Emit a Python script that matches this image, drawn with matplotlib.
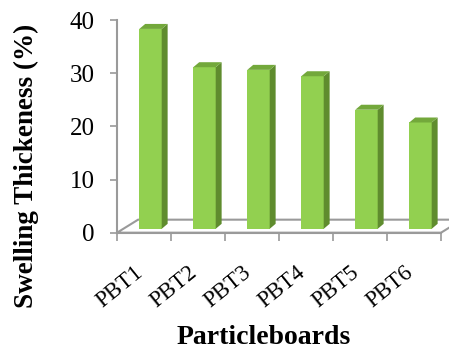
import numpy as np
import matplotlib
matplotlib.use("Agg")
import matplotlib.pyplot as plt
import matplotlib.transforms as mtransforms
from matplotlib.patches import Polygon

plt.rcParams['font.family'] = ['Liberation Serif', 'DejaVu Serif']

# swelling thickness of each board (%)
boards = ['PBT1', 'PBT2', 'PBT3', 'PBT4', 'PBT5', 'PBT6']
swelling = [37.6, 30.4, 29.9, 28.7, 22.4, 20.0]
y_ticks = [0, 10, 20, 30, 40]

# pseudo-3d look, in data units
floor_dx, floor_dy = 0.39, 2.45   # depth of the floor
front_dx, front_dy = 0.12, 0.73   # where the bar front sits on the floor
bar_dx, bar_dy = 0.11, 0.94       # depth of a bar
bar_w = 0.415

c_front = '#92d050'
c_side = '#5f8c2e'
c_top = '#73a83b'
c_grid = '#9a9a9a'

fig = plt.figure(figsize=(4.49, 3.58), dpi=100)
ax = fig.add_axes([0.2606, 0.35, 0.7216, 0.594])
x = np.arange(len(boards))
ax.set_xlim(-0.5, len(boards) - 0.5)
ax.set_ylim(0, 40)

# floor
x0, x1 = -0.5, len(boards) - 0.5
floor = Polygon([(x0, 0), (x1, 0), (x1 + floor_dx, floor_dy), (x0 + floor_dx, floor_dy)],
                closed=True, facecolor='white', edgecolor=c_grid, lw=1.5,
                clip_on=False, zorder=1)
ax.add_patch(floor)

# bars: front face + side + top
xs = x + front_dx
bars = ax.bar(xs, swelling, width=bar_w, bottom=front_dy, color=c_front,
              edgecolor='none', zorder=3, clip_on=False)
for xi, v in zip(xs, swelling):
    left = xi - bar_w / 2
    right = xi + bar_w / 2
    top = front_dy + v
    side = Polygon([(right, front_dy), (right + bar_dx, front_dy + bar_dy),
                    (right + bar_dx, top + bar_dy), (right, top)],
                   closed=True, facecolor=c_side, edgecolor='none', zorder=3, clip_on=False)
    lid = Polygon([(left, top), (right, top), (right + bar_dx, top + bar_dy),
                   (left + bar_dx, top + bar_dy)],
                  closed=True, facecolor=c_top, edgecolor='none', zorder=3, clip_on=False)
    ax.add_patch(side)
    ax.add_patch(lid)

# axes styling
for s in ['top', 'right']:
    ax.spines[s].set_visible(False)
for s in ['left', 'bottom']:
    ax.spines[s].set_color(c_grid)
    ax.spines[s].set_linewidth(1.5)
    ax.spines[s].set_zorder(2)

ax.set_yticks(y_ticks)
ax.tick_params(axis='y', length=5, width=1.2, color=c_grid, labelsize=18, pad=11)

ax.set_xticks(x)
ax.set_xticklabels(boards, rotation=39, ha='right', fontsize=16.5)
ax.tick_params(axis='x', which='major', length=0, pad=21)
ax.set_xticks(np.arange(x0, x1 + 0.01, 1), minor=True)
ax.tick_params(axis='x', which='minor', length=6, width=1.2, color=c_grid)
shift = mtransforms.ScaledTranslation(3 / 100, 0, fig.dpi_scale_trans)
for lab in ax.get_xticklabels():
    lab.set_transform(lab.get_transform() + shift)

fig.text(0.587, 0.056, 'Particleboards', ha='center', va='center',
         fontsize=20, fontweight='bold')
fig.text(0.058, 0.538, 'Swelling Thickeness (%)', ha='center', va='center',
         rotation=90, fontsize=19.5, fontweight='bold')

fig.savefig('out.png', dpi=100)
